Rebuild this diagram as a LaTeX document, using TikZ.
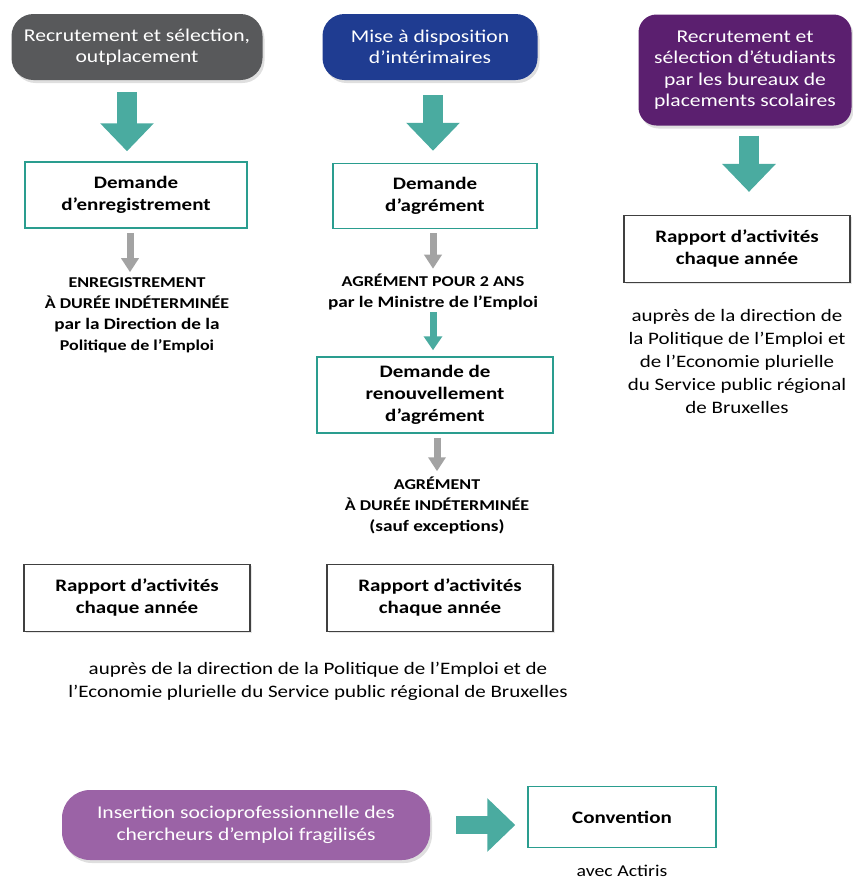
\documentclass[tikz,border=0pt]{standalone}
\usepackage{fontspec}
\setmainfont[FakeStretch=1.2]{Carlito}
\usetikzlibrary{arrows.meta,shadows}
\definecolor{pillgray}{HTML}{58595B}
\definecolor{pillblue}{HTML}{1F3C91}
\definecolor{pillplum}{HTML}{5B1F6F}
\definecolor{pillmauve}{HTML}{9B63A6}
\definecolor{arrowteal}{HTML}{4AABA0}
\definecolor{boxteal}{HTML}{2A9D8F}
\definecolor{arrowgray}{HTML}{A3A3A3}
\begin{document}
\begin{tikzpicture}[x=1pt,y=-1pt,
    pill/.style={rounded corners=22pt, text=white, align=center, inner sep=0pt,
      drop shadow={opacity=0.25,shadow xshift=2pt,shadow yshift=-3pt},
      font=\fontsize{18}{21.5}\selectfont},
    demande/.style={draw=boxteal, line width=1.5pt, fill=white, align=center,
      inner sep=0pt, font=\bfseries\fontsize{17.5}{22}\selectfont},
    rapbox/.style={draw=black!75, line width=1.2pt, fill=white, align=center,
      inner sep=0pt, minimum width=226pt, minimum height=67pt,
      drop shadow={opacity=0.2,shadow xshift=1.5pt,shadow yshift=-1.5pt},
      font=\bfseries\fontsize{17.5}{22}\selectfont},
    note/.style={align=center, inner sep=0pt, font=\bfseries\fontsize{15}{21}\selectfont},
    aupres/.style={align=center, inner sep=0pt, font=\fontsize{17.5}{23}\selectfont},
    bigarrow/.style={draw=arrowteal, line width=20pt, -{Triangle[width=52pt,length=28pt]}},
    smallteal/.style={draw=arrowteal, line width=7pt, -{Triangle[width=18pt,length=14pt]}},
    smallgray/.style={draw=arrowgray, line width=7pt, -{Triangle[width=17pt,length=14pt]}}]
\useasboundingbox (0,0) rectangle (853,884);

% rounded headers
\node[pill, fill=pillgray, minimum width=251pt, minimum height=66pt] (recrut) at (137,47)
  {Recrutement et sélection,\\outplacement};
\node[pill, fill=pillblue, minimum width=215pt, minimum height=66pt] (mise) at (430,47)
  {Mise à disposition\\d’intérimaires};
\node[pill, fill=pillplum, rounded corners=18pt, minimum width=213pt, minimum height=111pt] (etud) at (745,70)
  {Recrutement et\\sélection d’étudiants\\par les bureaux de\\placements scolaires};
\node[pill, fill=pillmauve, rounded corners=28pt, minimum width=368pt, minimum height=70pt] (insert) at (246,825)
  {Insertion socioprofessionnelle des\\chercheurs d’emploi fragilisés};

% demandes
\node[demande, minimum width=222pt, minimum height=66pt] (demEnr) at (136,195) {Demande\\d’enregistrement};
\node[demande, minimum width=204pt, minimum height=65pt] (demAgr) at (435,196) {Demande\\d’agrément};
\node[demande, minimum width=236pt, minimum height=76pt] (demRen) at (435,395) {Demande de\\renouvellement\\d’agrément};
\node[demande, minimum width=188pt, minimum height=61pt] (conv) at (622,817) {Convention};

% rapports
\foreach \n/\x/\y in {rapL/137/598, rapM/440/598, rapR/737/249}{
  \node[rapbox] (\n) at (\x,\y) {Rapport d’activités\\chaque année};
}

% notes
\node[note] (enrTxt) at (137,315) {ENREGISTREMENT\\À DURÉE INDÉTERMINÉE\\
  \fontsize{16}{21}\selectfont par la Direction de la\\Politique de l’Emploi};
\node[note] (agrDeux) at (433,292) {AGRÉMENT POUR 2 ANS\\
  \fontsize{16}{21}\selectfont par le Ministre de l’Emploi};
\node[note] (agrInd) at (437,505) {AGRÉMENT\\À DURÉE INDÉTERMINÉE\\
  \fontsize{16}{21}\selectfont (sauf exceptions)};
\node[aupres] (aupR) at (737,361) {auprès de la direction de\\la Politique de l’Emploi et\\de l’Economie plurielle\\du Service public régional\\de Bruxelles};
\node[aupres] (aupB) at (318,681) {auprès de la direction de la Politique de l’Emploi et de\\l’Economie plurielle du Service public régional de Bruxelles};
\node[aupres, font=\fontsize{16.5}{20}\selectfont] (actiris) at (622,871) {avec Actiris};

% arrows
\draw[bigarrow, shorten <=12pt, shorten >=10pt] ([xshift=-10pt]recrut.south) -- ([xshift=-10pt]recrut.south |- demEnr.north);
\draw[bigarrow, shorten <=15pt, shorten >=12pt] ([xshift=3pt]mise.south) -- ([xshift=3pt]mise.south |- demAgr.north);
\draw[bigarrow, shorten <=10pt, shorten >=23pt] ([xshift=4pt]etud.south) -- ([xshift=4pt]etud.south |- rapR.north);
\draw[smallgray, shorten <=4pt, shorten >=5pt] ([xshift=-6pt]demEnr.south) -- ([xshift=-6pt]demEnr.south |- enrTxt.north);
\draw[smallgray, shorten <=4pt, shorten >=5pt] ([xshift=-2pt]demAgr.south) -- ([xshift=-2pt]demAgr.south |- agrDeux.north);
\draw[smallteal, shorten <=2pt, shorten >=6pt] (agrDeux.south) -- (agrDeux.south |- demRen.north);
\draw[smallgray, shorten <=4pt, shorten >=5pt] ([xshift=2pt]demRen.south) -- ([xshift=2pt]demRen.south |- agrInd.north);
\draw[bigarrow, line width=18pt, shorten <=26pt, shorten >=12pt] (insert.east) -- (insert.east -| conv.west);
\end{tikzpicture}
\end{document}
